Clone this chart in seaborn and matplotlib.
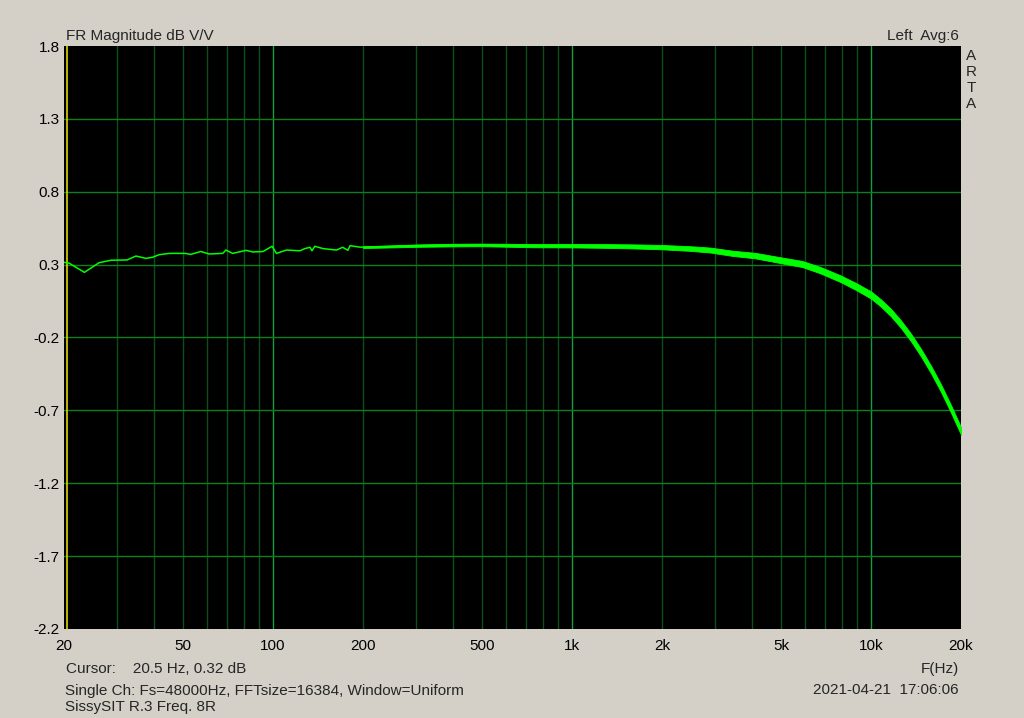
import numpy as np
import pandas as pd
import matplotlib
matplotlib.use("Agg")
import matplotlib.pyplot as plt
import seaborn as sns

# ---------------- data ----------------
low_freq = [20, 20.8, 23.4, 26.2, 28.7, 32.5, 34.8, 37.6, 39.5, 41.6, 45, 51, 53,
            57.4, 61.2, 67.9, 69.6, 73.3, 81.3, 85.6, 92.6, 99.3, 102.7, 110.9,
            123, 127.8, 133, 135, 138, 147, 163, 171, 178, 181, 195]
low_db = [0.316, 0.31, 0.247, 0.313, 0.33, 0.332, 0.359, 0.343, 0.35, 0.368,
          0.377, 0.377, 0.37, 0.39, 0.373, 0.377, 0.40, 0.377, 0.398, 0.387,
          0.39, 0.426, 0.377, 0.40, 0.395, 0.41, 0.419, 0.395, 0.426, 0.41,
          0.40, 0.419, 0.398, 0.43, 0.42]

high_freq = [200, 250, 300, 400, 500, 600, 750, 1000, 1300, 1600, 2000, 2500,
             2900, 3460, 4100, 5000, 5900, 6790, 7920, 8890, 10000, 10790,
             11660, 12590, 13600, 14690, 15870, 17140, 18500, 20000]
high_db = [0.42, 0.425, 0.43, 0.434, 0.435, 0.433, 0.43, 0.43, 0.428, 0.425,
           0.42, 0.41, 0.40, 0.377, 0.362, 0.33, 0.304, 0.261, 0.203, 0.151,
           0.092, 0.037, -0.029, -0.108, -0.199, -0.303, -0.419, -0.547,
           -0.688, -0.841]
high_spread = [0.006, 0.007, 0.008, 0.009, 0.009, 0.01, 0.011, 0.012, 0.013,
               0.014, 0.015, 0.016, 0.017, 0.018, 0.019, 0.02, 0.021, 0.022,
               0.023, 0.024, 0.025, 0.025, 0.026, 0.026, 0.026, 0.026, 0.026,
               0.026, 0.026, 0.026]

y_ticks = [1.8, 1.3, 0.8, 0.3, -0.2, -0.7, -1.2, -1.7, -2.2]
x_ticks = [20, 50, 100, 200, 500, 1000, 2000, 5000, 10000, 20000]
x_tick_labels = ["20", "50", "100", "200", "500", "1k", "2k", "5k", "10k", "20k"]
minor_grid = [30, 40, 50, 60, 70, 80, 90, 200, 300, 400, 500, 600, 700, 800, 900,
              2000, 3000, 4000, 5000, 6000, 7000, 8000, 9000]
major_grid = [100, 1000, 10000]
cursor_freq = 20.5

# ---------------- styling ----------------
sns.set_style("white")
plt.rcParams['font.family'] = ['Liberation Sans', 'DejaVu Sans']
BG = '#d4d0c8'

W, H = 1024, 718
fig = plt.figure(figsize=(W / 100, H / 100), dpi=100, facecolor=BG)
L, R, T, B = 64, 961, 46, 629
ax = fig.add_axes([L / W, 1 - B / H, (R - L) / W, (B - T) / H])
ax.set_facecolor('black')

ax.set_xscale('log')
ax.set_xlim(20, 20000)
ax.set_ylim(-2.2, 1.8)

# grid
for f in minor_grid:
    ax.axvline(f, color='#0b4d1b', lw=1.0, zorder=1)
for f in major_grid:
    ax.axvline(f, color='#12a03c', lw=1.0, zorder=1)
for v in y_ticks[1:-1]:
    ax.axhline(v, color='#0e7f1e', lw=1.0, zorder=1)
ax.axvline(cursor_freq, color='#d8d800', lw=1.2, zorder=2)

# data
df_low = pd.DataFrame({'f': low_freq, 'db': low_db})
df_high = pd.DataFrame({'f': high_freq, 'db': high_db, 's': high_spread})
df_line = pd.concat([df_low, df_high[['f', 'db']]], ignore_index=True)
upper = df_high['db'] + df_high['s']
lower = df_high['db'] - df_high['s']
ax.fill_between(df_high['f'], lower, upper, color='#00ff00', lw=0.6,
                edgecolor='#00ff00', zorder=3)
sns.lineplot(data=df_line, x='f', y='db', ax=ax, color='#00ff00', lw=1.1,
             zorder=4, estimator=None, sort=False)

# ticks
ax.set_xticks(x_ticks)
ax.set_xticklabels(x_tick_labels)
ax.xaxis.set_minor_locator(matplotlib.ticker.NullLocator())
ax.set_yticks(y_ticks)
ax.set_yticklabels([f"{v:.1f}" for v in y_ticks])
ax.tick_params(axis='both', length=0, labelsize=11, colors='black')
ax.tick_params(axis='x', pad=7)
ax.tick_params(axis='y', pad=3)
ax.set_xlabel('')
ax.set_ylabel('')
for s in ax.spines.values():
    s.set_visible(False)

# texts
def px(x, y):
    return x / W, 1 - y / H

fs = 11
fig.text(*px(66, 40), "FR Magnitude dB V/V", fontsize=fs, va='baseline', ha='left')
fig.text(*px(959, 40), "Left  Avg:6", fontsize=fs, va='baseline', ha='right')
for i, ch in enumerate("ARTA"):
    fig.text(*px(971, 60.5 + i * 15.7), ch, fontsize=fs, va='baseline', ha='center')
fig.text(*px(66.5, 673), "Cursor:    20.5 Hz, 0.32 dB", fontsize=fs, va='baseline', ha='left')
fig.text(*px(959, 673), "F(Hz)", fontsize=fs, va='baseline', ha='right')
fig.text(*px(65, 694.5), "Single Ch: Fs=48000Hz, FFTsize=16384, Window=Uniform",
         fontsize=fs, va='baseline', ha='left')
fig.text(*px(959, 694.5), "2021-04-21  17:06:06", fontsize=fs, va='baseline', ha='right')
fig.text(*px(65, 710.5), "SissySIT R.3 Freq. 8R", fontsize=fs, va='baseline', ha='left')

fig.savefig('out.png', dpi=100, facecolor=BG)
